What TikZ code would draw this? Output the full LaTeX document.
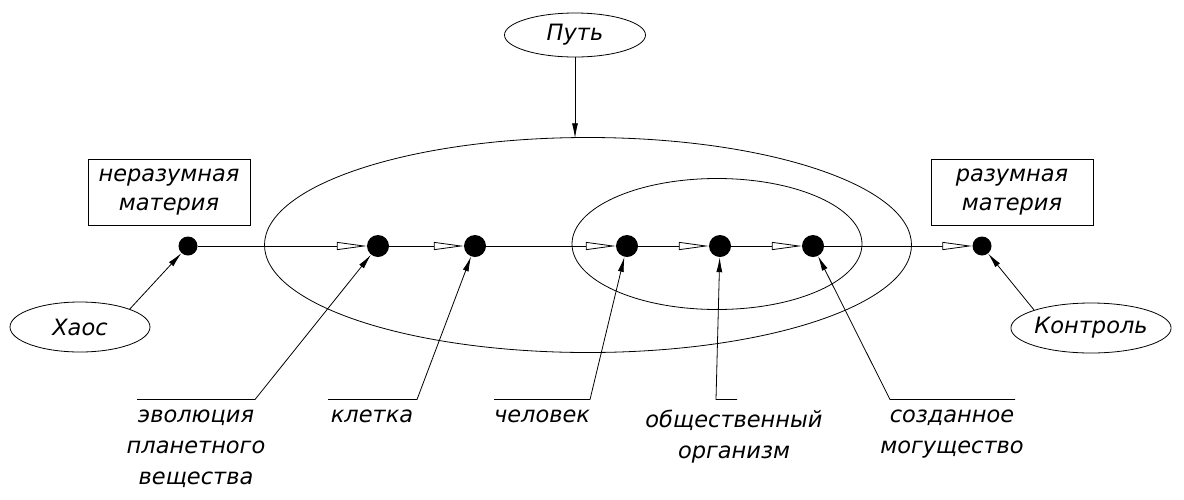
\documentclass[tikz,border=0pt]{standalone}
\usepackage{fontspec}
\setmainfont{DejaVu Sans}
\usetikzlibrary{shapes.geometric,arrows.meta}
\begin{document}
\begin{tikzpicture}[x=1pt,y=-1pt,
 every node/.style={font=\fontsize{22.5}{29}\selectfont\itshape},
 oval/.style={ellipse,draw,line width=0.8pt,inner sep=0},
 box/.style={rectangle,draw,line width=0.8pt,minimum width=162,minimum height=66,align=center,inner sep=0},
 dotbig/.style={circle,fill=black,minimum size=22,inner sep=0},
 dotsmall/.style={circle,fill=black,minimum size=19,inner sep=0},
 flow/.style={line width=0.9pt,-{Triangle[length=30pt,width=8pt,fill=white,line width=0.8pt]}},
 leader/.style={line width=0.8pt,-{Latex[length=15pt,width=6pt]}},
 lab/.style={align=center,inner sep=0,font=\fontsize{22.5}{31}\selectfont\itshape}]
\useasboundingbox (0,0) rectangle (1184,499);
% ellipses
\node[oval,minimum width=647,minimum height=215] (big) at (588,245) {};
\node[oval,minimum width=290,minimum height=131] (inner) at (717,244) {};
\node[oval,minimum width=141,minimum height=44] (put) at (575,35) {Путь};
\node[oval,minimum width=140,minimum height=50] (khaos) at (80,327) {Хаос};
\node[oval,minimum width=150,minimum height=50] (kontrol) at (1091,328) {Контроль};
% boxes
\node[box] (nm) at (169,192) {неразумная\\материя};
\node[box] (rm) at (1012,192) {разумная\\материя};
% dots
\node[dotsmall] (d0) at (188,246) {};
\node[dotbig] (d1) at (378,246) {};
\node[dotbig] (d2) at (475,246) {};
\node[dotbig] (d3) at (627,246) {};
\node[dotbig] (d4) at (720,246) {};
\node[dotbig] (d5) at (813,246) {};
\node[dotsmall] (d6) at (982,246) {};
% main flow
\draw[flow] (d0) -- (d1);
\draw[flow] (d1) -- (d2);
\draw[flow] (d2) -- (d3);
\draw[flow] (d3) -- (d4);
\draw[flow] (d4) -- (d5);
\draw[flow] (d5) -- (d6);
% top arrow
\coordinate (pt) at (575,138.3);
\draw[leader] (put) -- (pt);
\draw[leader] (khaos.north east) -- (d0);
\draw[leader] (kontrol.north west) -- (d6);
% bottom labels
\coordinate (a1) at (137,399.5); \coordinate (b1) at (255,399.5);
\coordinate (a2) at (328,399.5); \coordinate (b2) at (417,399.5);
\coordinate (a3) at (494,399.5); \coordinate (b3) at (590,399.5);
\coordinate (a4) at (737,399.5); \coordinate (b4) at (716,399.5);
\coordinate (a5) at (1015,399.5); \coordinate (b5) at (890,399.5);
\draw[leader] (a1) -- (b1) -- (d1);
\draw[leader] (a2) -- (b2) -- (d2);
\draw[leader] (a3) -- (b3) -- (d3);
\draw[leader] (a4) -- (b4) -- (d4);
\draw[leader] (a5) -- (b5) -- (d5);
\node[lab,anchor=north] (l1) at (196,410) {эволюция\\планетного\\вещества};
\node[lab,anchor=north] (l2) at (372,410) {клетка};
\node[lab,anchor=north] (l3) at (542,410) {человек};
\node[lab,anchor=north] (l4) at (734,410) {общественный\\организм};
\node[lab,anchor=north] (l5) at (952,410) {созданное\\могущество};
\end{tikzpicture}
\end{document}
